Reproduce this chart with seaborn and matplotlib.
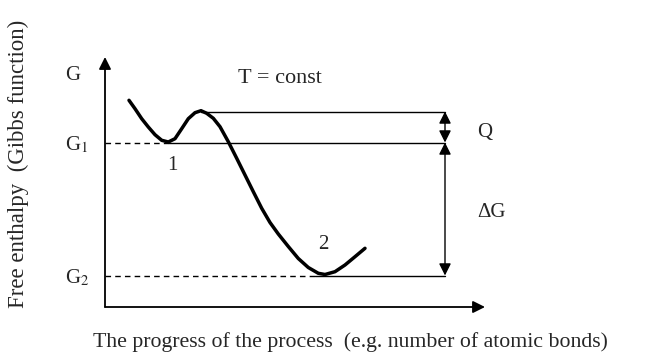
import numpy as np
import pandas as pd
import seaborn as sns
import matplotlib.pyplot as plt
from matplotlib.patches import ArrowStyle

# free-enthalpy path along the process coordinate
progress = [24, 30, 36.7, 43.3, 50, 56.7, 63.3, 70, 76.7, 83.3, 90, 96,
            101.7, 108.3, 115, 123.3, 131.7, 140, 148.3, 156.7, 165, 173.3,
            183.3, 193.3, 203.3, 213.3, 220, 230, 240, 250, 260]
gibbs = [206.7, 198.3, 188.3, 180, 172.3, 166.7, 165, 168.3, 178.3, 188.3,
         194.3, 196.3, 193.7, 188.7, 180.3, 165.3, 148.7, 132, 115.3, 98.7,
         84.5, 73, 60.5, 48.5, 39.5, 33.7, 32.5, 35.3, 42, 50.3, 58.7]

# levels
g_barrier = 195.5
g1 = 164.5
g2 = 31.5
g_axis = 234
level_ticks = [g_axis, g1, g2]
level_labels = ["G", "G$_{\\rm 1}$", "G$_{\\rm 2}$"]

# where the state minima sit
x_min1 = 63.3
x_min2 = 210
x_barrier = 96
x_right = 340

sns.set_style("white")
plt.rcParams["font.family"] = ["Liberation Serif", "DejaVu Serif"]
plt.rcParams["mathtext.fontset"] = "stix"

fig = plt.figure(figsize=(6.69, 3.58), dpi=100)
ax = fig.add_axes([105 / 669, 51 / 358, 380 / 669, 250 / 358])

df = pd.DataFrame({"progress": progress, "G": gibbs})
sns.lineplot(x="progress", y="G", data=df, sort=False, estimator=None,
             color="black", linewidth=2.5, ax=ax)
ax.set_xlabel("")
ax.set_ylabel("")

ax.set_xlim(0, 380)
ax.set_ylim(0, 250)
for s in ax.spines.values():
    s.set_visible(False)

# axis arrows
head = ArrowStyle("-|>", head_length=0.72, head_width=0.36)
for tip in [(0, 1), (1, 0)]:
    ax.annotate("", xy=tip, xytext=(0, 0), xycoords="axes fraction",
                arrowprops=dict(arrowstyle=head, lw=1.3, color="black",
                                mutation_scale=10, shrinkA=0, shrinkB=0))

# level lines
ax.plot([x_barrier, x_right], [g_barrier, g_barrier], color="black", lw=1)
ax.plot([0, x_min1], [g1, g1], color="black", lw=1, ls=(0, (4, 3)))
ax.plot([x_min1, x_right], [g1, g1], color="black", lw=1)
ax.plot([0, x_min2], [g2, g2], color="black", lw=1, ls=(0, (4, 3)))
ax.plot([x_min2, x_right], [g2, g2], color="black", lw=1)

# Q and dG arrows
both = ArrowStyle("<|-|>", head_length=0.72, head_width=0.36)
for lo, hi in [(g1, g_barrier), (g2, g1)]:
    ax.annotate("", xy=(x_right, hi), xytext=(x_right, lo),
                arrowprops=dict(arrowstyle=both, lw=1, color="black",
                                mutation_scale=10, shrinkA=0, shrinkB=0))

ax.set_xticks([])
ax.set_yticks(level_ticks)
ax.set_yticklabels(level_labels, fontsize=15, ha="left")
ax.tick_params(axis="y", length=0, pad=29)

ax.text(175, 229, "T = const", fontsize=16, ha="center", va="center")
ax.text(67, 142, "1", fontsize=15, ha="center", va="center")
ax.text(218, 63, "2", fontsize=15, ha="center", va="center")
ax.text(372, 175, "Q", fontsize=15, ha="left", va="center")
ax.text(372, 95, "\u0394G", fontsize=15, ha="left", va="center")

fig.text(18 / 669, 1 - 308 / 358, "Free enthalpy  (Gibbs function)",
         fontsize=16.5, rotation=90, rotation_mode="anchor",
         ha="left", va="center")
fig.text(350 / 669, 1 - 342 / 358,
         "The progress of the process  (e.g. number of atomic bonds)",
         fontsize=15.7, ha="center", va="center")

fig.savefig("out.png", dpi=100)
